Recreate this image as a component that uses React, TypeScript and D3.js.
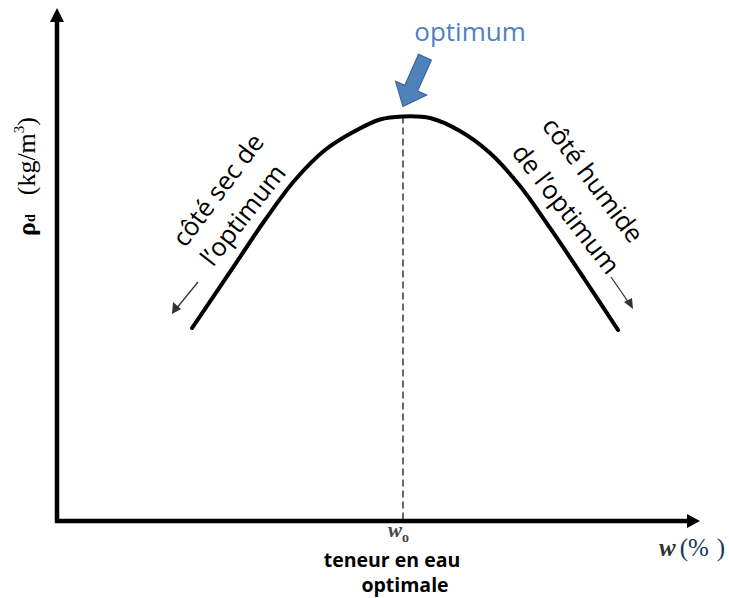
import React from "react";
import * as d3 from "d3";

// Compaction curve (arbitrary units)
const waterContent = [21.0, 26.91, 32.35, 37.01, 41.68, 46.35, 50.23, 53.81, 58.01, 62.67, 67.34, 72.01, 76.67, 82.12, 87.25];
const dryDensity = [37.62, 48.54, 58.67, 66.47, 72.32, 76.02, 78.27, 78.85, 78.56, 76.02, 71.73, 65.3, 57.12, 46.98, 37.23];
const optimumW = 53.81;
const optimumRho = 78.85;

const W = 729;
const H = 598;

export default function App() {
  const x = d3.scaleLinear().domain([0, 100]).range([57, 700]);
  const y = d3.scaleLinear().domain([0, 100]).range([521, 8]);
  const pts: [number, number][] = waterContent.map((w, i) => [w, dryDensity[i]]);
  const line = d3
    .line<[number, number]>()
    .x((d) => x(d[0]))
    .y((d) => y(d[1]))
    .curve(d3.curveCatmullRom.alpha(0.5));

  const x0 = x(0);
  const y0 = y(0);
  const xo = x(optimumW);
  const yo = y(optimumRho);
  const sans = "'Open Sans', 'Noto Sans', sans-serif";
  const serif = "'Liberation Serif', 'DejaVu Serif', serif";

  return (
    <svg width={W} height={H} style={{ position: "absolute", left: 0, top: 0, background: "#fff" }}>
      <rect width={W} height={H} fill="#fff" />
      {/* dashed optimum line */}
      <line x1={xo} x2={xo} y1={yo} y2={y0} stroke="#444" strokeWidth={1.6} strokeDasharray="7,4" />
      {/* axes */}
      <line x1={x0} x2={x0} y1={y0 + 2} y2={y(100) + 10} stroke="#000" strokeWidth={4.5} />
      <polygon points={`${x0},${y(100)} ${x0 - 7},${y(100) + 14} ${x0 + 7},${y(100) + 14}`} fill="#000" />
      <line x1={x0 - 2} x2={x(100) - 10} y1={y0} y2={y0} stroke="#000" strokeWidth={4.5} />
      <polygon points={`${x(100)},${y0} ${x(100) - 13},${y0 - 7} ${x(100) - 13},${y0 + 7}`} fill="#000" />
      {/* curve */}
      <path d={line(pts) || ""} fill="none" stroke="#000" strokeWidth={4} strokeLinecap="round" />

      {/* blue block arrow */}
      <g transform={`translate(${xo},${yo - 10}) rotate(24)`}>
        <polygon
          points="0,0 -17,-20 -7,-20 -7,-54 7,-54 7,-20 17,-20"
          fill="#4f81bd"
          stroke="#3a6496"
          strokeWidth={1.2}
        />
      </g>
      <text x={470} y={41} textAnchor="middle" fontFamily={sans} fontSize={26} fill="#4f81bd">
        optimum
      </text>

      {/* side labels */}
      <g fontFamily={sans} fontSize={25.5} fill="#000">
        <text transform="translate(218,190) rotate(-53)" textAnchor="middle" dy="0.35em">
          côté sec de
        </text>
        <text transform="translate(243,215) rotate(-52)" textAnchor="middle" dy="0.35em">
          l’optimum
        </text>
        <text transform="translate(593,180) rotate(53)" textAnchor="middle" dy="0.35em">
          côté humide
        </text>
        <text transform="translate(566,209) rotate(52)" textAnchor="middle" dy="0.35em">
          de l’optimum
        </text>
      </g>
      {/* small arrows */}
      <line x1={198} y1={282} x2={176} y2={309} stroke="#333" strokeWidth={1.3} />
      <polygon points="172,314 173,302 181,309" fill="#333" />
      <line x1={611} y1={277} x2={629} y2={303} stroke="#333" strokeWidth={1.3} />
      <polygon points="633,309 624,302 632,298" fill="#333" />

      {/* y axis label */}
      <text transform="translate(35,236) rotate(-90)" fontFamily={serif} fontSize={26} fill="#000">
        <tspan fontWeight="bold">ρ</tspan>
        <tspan fontSize={14} fontWeight="bold">d</tspan>
        <tspan dx={19}>(kg/m</tspan>
        <tspan fontSize={15} dy={-11}>3</tspan>
        <tspan dy={11}>)</tspan>
      </text>

      {/* x axis annotations */}
      <text x={xo - 15} y={537} fontFamily={serif} fontStyle="italic" fontWeight="bold" fontSize={21} fill="#444">
        w<tspan fontStyle="normal" fontSize={14} dy={5}>o</tspan>
      </text>
      <text x={xo - 11} y={567} textAnchor="middle" fontFamily={sans} fontWeight="bold" fontSize={19.5} fill="#000">
        teneur en eau
      </text>
      <text x={xo + 2} y={592} textAnchor="middle" fontFamily={sans} fontWeight="bold" fontSize={19.5} fill="#000">
        optimale
      </text>
      <text x={659} y={556} fontFamily={serif} fontSize={25} fill="#17375e">
        <tspan fontStyle="italic" fontWeight="bold" fill="#333">w</tspan>
        <tspan dx={4}>(%</tspan>
        <tspan dx={8}>)</tspan>
      </text>
    </svg>
  );
}
